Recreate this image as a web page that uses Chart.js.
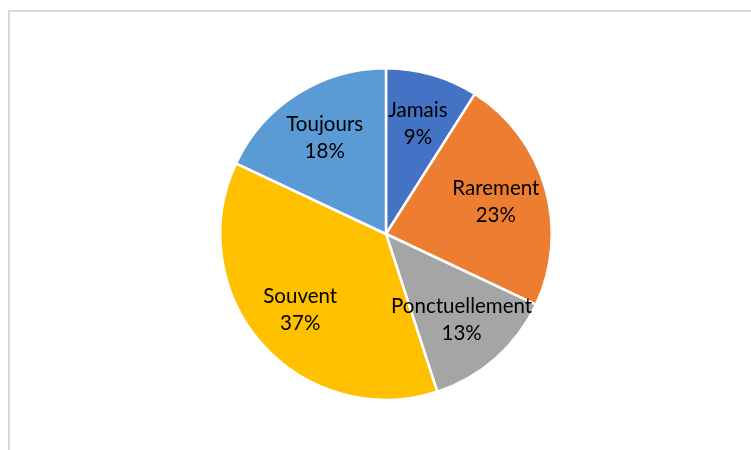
<!DOCTYPE html>
<html lang="fr">
<head>
    <meta charset="UTF-8">
    <title>Fréquence</title>
    <script src="https://cdn.jsdelivr.net/npm/chart.js"></script>
    <style>
        body { margin: 0; background: #fff; }
        .cadre {
            position: absolute; left: 8px; top: 10px;
            width: 760px; height: 460px;
            border-left: 2px solid #d9d9d9; border-top: 2px solid #d9d9d9;
        }
        .zone { position: absolute; left: 0; top: 0; width: 751px; height: 450px; }
    </style>
</head>
<body>
    <div class="cadre"></div>
    <div class="zone"><canvas id="camembert" width="751" height="450"></canvas></div>

    <script>
        // Données du camembert
        const categories = ['Jamais', 'Rarement', 'Ponctuellement', 'Souvent', 'Toujours'];
        const pourcentages = [9, 23, 13, 37, 18];
        const couleurs = ['#4472C4', '#ED7D31', '#A5A5A5', '#FFC000', '#5B9BD5'];

        // Étiquettes à l'intérieur des parts : nom puis pourcentage
        const etiquettes = {
            id: 'etiquettes',
            afterDatasetsDraw(chart) {
                const ctx = chart.ctx;
                const arcs = chart.getDatasetMeta(0).data;
                ctx.save();
                ctx.font = '20.5px Lato, "Open Sans", sans-serif';
                ctx.fillStyle = '#000';
                ctx.textAlign = 'center';
                ctx.textBaseline = 'middle';
                arcs.forEach((arc, i) => {
                    const p = arc.getProps(['x', 'y', 'startAngle', 'endAngle', 'outerRadius']);
                    const milieu = (p.startAngle + p.endAngle) / 2;
                    const r = p.outerRadius * 0.69;
                    const x = p.x + Math.cos(milieu) * r;
                    const y = p.y + Math.sin(milieu) * r;
                    ctx.fillText(categories[i], x, y - 13.5);
                    ctx.fillText(pourcentages[i] + '%', x, y + 13.5);
                });
                ctx.restore();
            }
        };

        new Chart(document.getElementById('camembert'), {
            type: 'pie',
            data: {
                labels: categories,
                datasets: [{
                    data: pourcentages,
                    backgroundColor: couleurs,
                    borderColor: '#fff',
                    borderWidth: 2.5
                }]
            },
            options: {
                responsive: false,
                animation: false,
                layout: { padding: { top: 67, bottom: 49, left: 219, right: 198 } },
                plugins: {
                    legend: { display: false },
                    tooltip: { enabled: false }
                }
            },
            plugins: [etiquettes]
        });
    </script>
</body>
</html>
